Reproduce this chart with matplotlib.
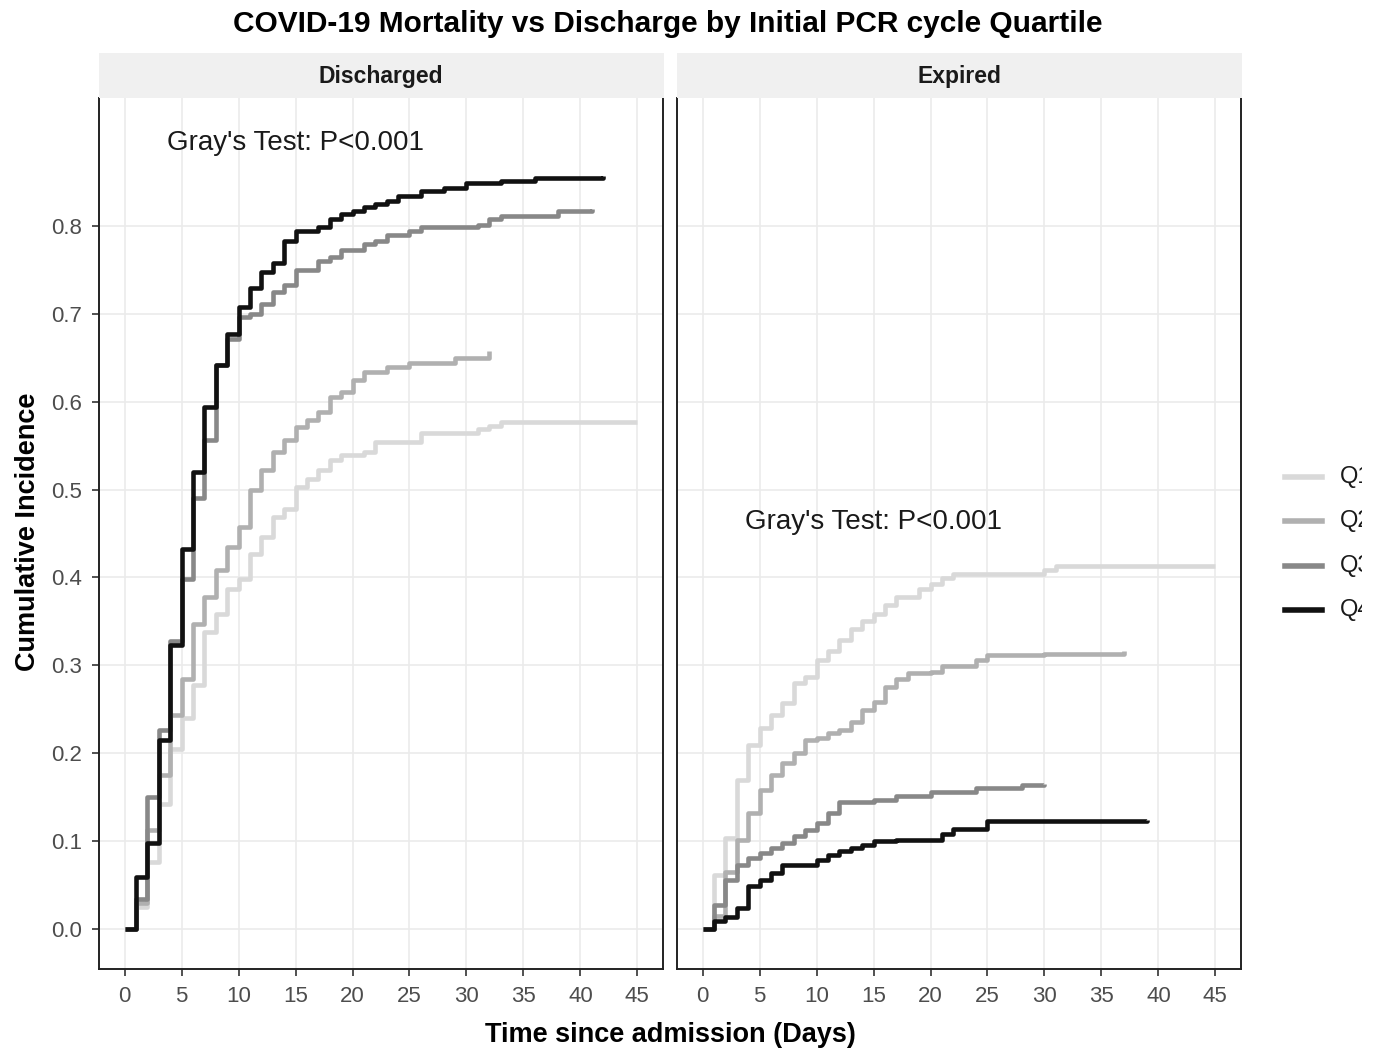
import matplotlib
matplotlib.use("Agg")
import matplotlib.pyplot as plt
from matplotlib.patches import Rectangle
from matplotlib.lines import Line2D
from matplotlib.transforms import Bbox

# --- data ---
quartiles = ["Q1", "Q2", "Q3", "Q4"]
panels = ["Discharged", "Expired"]

dis_q1_t = [0, 1, 2, 3, 4, 5, 6, 7, 8, 9, 10, 11, 12, 13, 14, 15, 16, 17, 18, 19, 21, 22, 26, 31, 32, 33, 45]
dis_q1_v = [0, .026, .077, .142, .205, .24, .278, .338, .359, .387, .398, .427, .446, .469, .478, .503, .512,
            .522, .533, .539, .543, .554, .564, .569, .572, .577, .577]
dis_q2_t = [0, 1, 2, 3, 4, 5, 6, 7, 8, 9, 10, 11, 12, 13, 14, 15, 16, 17, 18, 19, 20, 21, 23, 25, 29, 32]
dis_q2_v = [0, .03, .113, .176, .244, .285, .347, .378, .409, .435, .457, .50, .522, .543, .556, .571, .579,
            .588, .605, .611, .624, .633, .639, .644, .649, .658]
dis_q3_t = [0, 1, 2, 3, 4, 5, 6, 7, 8, 9, 10, 11, 12, 13, 14, 15, 17, 18, 19, 21, 22, 23, 25, 26, 31, 32, 33, 38, 41]
dis_q3_v = [0, .034, .151, .227, .328, .398, .49, .556, .641, .671, .696, .70, .711, .724, .732, .749, .76,
            .764, .772, .779, .782, .789, .794, .798, .801, .807, .811, .817, .819]
dis_q4_t = [0, 1, 2, 3, 4, 5, 6, 7, 8, 9, 10, 11, 12, 13, 14, 15, 17, 18, 19, 20, 21, 22, 23, 24, 26, 28, 30,
            33, 36, 42]
dis_q4_v = [0, .06, .098, .215, .323, .432, .52, .594, .642, .677, .707, .729, .747, .757, .783, .794, .798,
            .808, .813, .817, .821, .824, .828, .834, .839, .843, .848, .851, .854, .856]

exp_q1_t = [0, 1, 2, 3, 4, 5, 6, 7, 8, 9, 10, 11, 12, 13, 14, 15, 16, 17, 19, 20, 21, 22, 30, 31, 45]
exp_q1_v = [0, .062, .104, .17, .21, .229, .244, .257, .28, .287, .306, .316, .329, .342, .351, .359, .369,
            .378, .387, .393, .399, .404, .408, .413, .413]
exp_q2_t = [0, 1, 2, 3, 4, 5, 6, 7, 8, 9, 10, 11, 12, 13, 14, 15, 16, 17, 18, 20, 21, 24, 25, 30, 37]
exp_q2_v = [0, .015, .065, .102, .132, .159, .176, .189, .20, .215, .217, .223, .227, .236, .249, .259, .276,
            .285, .291, .293, .299, .306, .312, .313, .316]
exp_q3_t = [0, 1, 2, 3, 4, 5, 6, 7, 8, 9, 10, 11, 12, 15, 17, 20, 24, 28, 30]
exp_q3_v = [0, .028, .056, .073, .081, .087, .092, .098, .106, .113, .121, .132, .145, .147, .152, .156, .161,
            .164, .165]
exp_q4_t = [0, 1, 2, 3, 4, 5, 6, 7, 10, 11, 12, 13, 14, 15, 17, 21, 22, 25, 39]
exp_q4_v = [0, .009, .014, .024, .049, .056, .064, .073, .079, .085, .089, .092, .096, .10, .102, .109, .114,
            .123, .124]

x_ticks = [0, 5, 10, 15, 20, 25, 30, 35, 40, 45]
y_ticks = [0.0, 0.1, 0.2, 0.3, 0.4, 0.5, 0.6, 0.7, 0.8]
test_label = "Gray's Test: P<0.001"
test_y = [0.894, 0.463]

series = {
    "Discharged": [(dis_q1_t, dis_q1_v), (dis_q2_t, dis_q2_v), (dis_q3_t, dis_q3_v), (dis_q4_t, dis_q4_v)],
    "Expired": [(exp_q1_t, exp_q1_v), (exp_q2_t, exp_q2_v), (exp_q3_t, exp_q3_v), (exp_q4_t, exp_q4_v)],
}

# --- style ---
plt.rcParams['font.family'] = ['Liberation Sans', 'DejaVu Sans']
colors = {"Q1": "#D9D9D9", "Q2": "#B0B0B0", "Q3": "#888888", "Q4": "#111111"}
tick_col = "#4D4D4D"

W, H = 1378, 1055
fig = plt.figure(figsize=(W / 100, H / 100), dpi=100)

def fx(px):
    return px / W

def fy(py):
    return 1 - py / H

panel_x = [99, 677]
panel_w = 564
top_px, bot_px = 98, 969

for i, name in enumerate(panels):
    x0 = panel_x[i]
    ax = fig.add_axes([fx(x0), fy(bot_px), panel_w / W, (bot_px - top_px) / H])
    for q, (t, v) in zip(quartiles, series[name]):
        ax.step(t, v, where='post', color=colors[q], linewidth=3.3, solid_capstyle='butt', zorder=3)
    ax.text(15, test_y[i], test_label, fontsize=20, ha='center', va='center', color='#1a1a1a')
    ax.set_xlim(-2.25, 47.25)
    ax.set_ylim(-0.045, 0.945)
    ax.set_xticks(x_ticks)
    ax.set_yticks(y_ticks)
    ax.set_xticklabels([str(v) for v in x_ticks])
    ax.set_yticklabels([f"{v:.1f}" for v in y_ticks] if i == 0 else [])
    ax.grid(True, color='#EBEBEB', linewidth=1.2, zorder=0)
    ax.set_axisbelow(True)
    ax.spines['top'].set_visible(False)
    for s in ['left', 'right', 'bottom']:
        ax.spines[s].set_linewidth(1.4)
        ax.spines[s].set_color('#222222')
    ax.tick_params(axis='both', length=5, width=1.2, color='#333333', labelsize=16, labelcolor=tick_col, pad=7)
    if i == 1:
        ax.tick_params(axis='y', length=0)

    # facet strip
    fig.add_artist(Rectangle((fx(x0), fy(top_px)), (panel_w + 1) / W, 45 / H, transform=fig.transFigure,
                             facecolor='#F0F0F0', edgecolor='none'))
    fig.text(fx(x0 + panel_w / 2), fy(77), name, ha='center', va='center', fontsize=16.5,
             fontweight='bold', color='#1a1a1a')

fig.text(fx(668), fy(24), "COVID-19 Mortality vs Discharge by Initial PCR cycle Quartile",
         ha='center', va='center', fontsize=21.5, fontweight='bold')
fig.text(fx(28), fy(532), "Cumulative Incidence", rotation=90, ha='center', va='center',
         fontsize=19.5, fontweight='bold')
fig.text(fx(670), fy(1035), "Time since admission (Days)", ha='center', va='center',
         fontsize=19.5, fontweight='bold')

# legend; the labels are cut off at the right like in the reference
leg_y = [477, 521, 566, 610]
clip = Bbox.from_extents(0, 0, 1362, H)
for q, y in zip(quartiles, leg_y):
    fig.add_artist(Line2D([fx(1285), fx(1322)], [fy(y), fy(y)], transform=fig.transFigure,
                          color=colors[q], linewidth=4))
    txt = fig.text(fx(1340), fy(y), q, ha='left', va='center', fontsize=17, color='#1a1a1a')
    txt.set_clip_box(clip)
    txt.set_clip_on(True)

fig.savefig("out.png", dpi=100)
